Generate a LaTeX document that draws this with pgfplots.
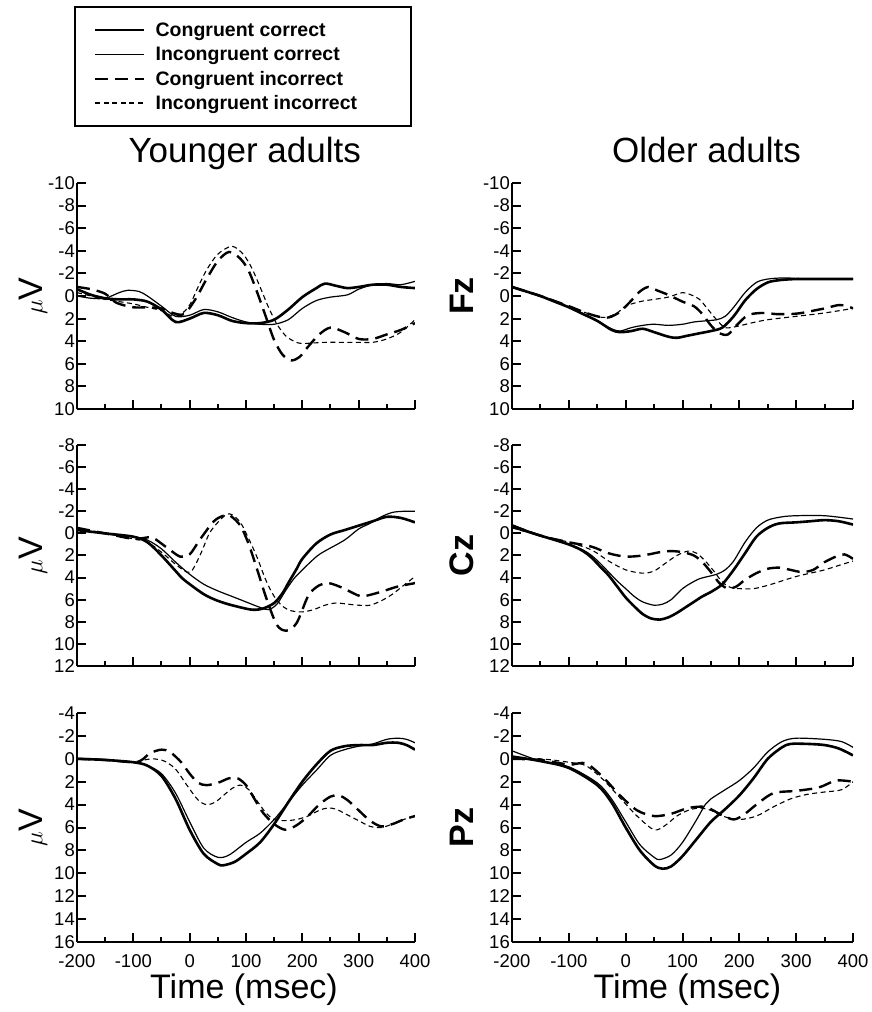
\documentclass[border=0pt]{standalone}
\usepackage{fontspec}
\setmainfont{Liberation Sans}
\usepackage{pgfplots}
\pgfplotsset{compat=1.18}

\pgfplotsset{
  erp/.style={
    scale only axis,
    xmin=-200, xmax=400,
    xtick={-200,-100,...,400},
    minor xtick={-150,-50,...,350},
    ytick distance=2,
    y dir=reverse,
    axis x line=bottom,
    axis y line=left,
    axis line style={-, line width=2.5pt},
    tick align=inside,
    major tick length=9pt,
    minor tick length=5pt,
    every tick/.style={line width=2pt, black},
    /pgf/number format/assume math mode=true,
    tick label style={font=\fontsize{18.5}{18.5}\selectfont},
    yticklabel style={anchor=east, inner xsep=2pt, font=\fontsize{18.5}{18.5}\selectfont},
    xticklabel style={anchor=base, yshift=-25pt, font=\fontsize{18.5}{18.5}\selectfont},
    every axis y label/.style={at={(axis description cs:-0.13,0.5)}, rotate=90, anchor=center, font=\fontsize{34}{34}\selectfont},
    every axis x label/.style={at={(axis description cs:0.5,0)}, anchor=base, yshift=-56pt, font=\fontsize{34}{34}\selectfont},
    title style={font=\fontsize{35}{35}\selectfont, at={(axis description cs:0.5,1)}, anchor=base, yshift=14.7pt},
    legend image code/.code={\path[draw=none, fill=none] (0pt,-12.15pt) rectangle (49pt,12.15pt); \draw[#1] (0pt,0pt) -- (49pt,0pt);},
  },
  cc/.style={black, line width=2.6pt, smooth, tension=0.5},
  ic/.style={black, line width=1.2pt, smooth, tension=0.5},
  ci/.style={black, line width=2.4pt, dash pattern=on 13pt off 7pt, smooth, tension=0.5},
  ii/.style={black, line width=1.1pt, dash pattern=on 5pt off 3.5pt, smooth, tension=0.5},
}

\begin{document}
\begin{tikzpicture}
\useasboundingbox (0,0) rectangle (871pt,1012pt);

% ---------- Younger adults, Fz ----------
\begin{axis}[erp, at={(77pt,603pt)}, anchor=south west, width=338pt, height=226pt,
  ymin=-10, ymax=10, xticklabels={},
  ylabel={$\mu$V}, title={Younger adults}, title style={xshift=-1.3pt},
  legend style={at={(-0.0089,1.7832)}, anchor=north west, draw=black, line width=2pt, fill=white,
    inner xsep=19pt, inner ysep=11pt, column sep=10pt, row sep=0pt,
    font=\fontsize{19.5}{19.5}\selectfont\bfseries,
    nodes={inner sep=0pt, text height=18.65pt, text depth=5.65pt}},
  legend cell align=left]
\addplot[cc] coordinates {(-200,-0.6)(-175,-0.1)(-150,0.2)(-125,0.3)(-100,0.3)(-75,0.5)(-50,1.2)(-25,2.3)(0,2.0)(25,1.5)(50,1.7)(75,2.2)(100,2.4)(125,2.4)(150,2.1)(175,1.2)(200,0.1)(225,-0.7)(240,-1.1)(260,-0.9)(280,-0.7)(300,-0.8)(325,-1.0)(350,-1.0)(375,-0.8)(400,-0.7)};
\addplot[ic] coordinates {(-200,0)(-175,0.2)(-150,0.2)(-125,-0.3)(-110,-0.5)(-90,-0.4)(-75,0)(-50,0.9)(-25,1.8)(0,1.7)(25,1.2)(50,1.4)(75,1.9)(100,2.3)(125,2.5)(150,2.5)(175,2.1)(200,1.1)(225,0.4)(250,0.1)(280,-0.1)(300,-0.6)(325,-1.0)(350,-1.1)(375,-1.0)(400,-1.3)};
\addplot[ci] coordinates {(-200,-0.8)(-175,-0.6)(-150,-0.2)(-130,0.6)(-100,1.0)(-75,1.0)(-50,1.1)(-30,1.5)(-10,1.6)(10,0.3)(30,-1.5)(50,-3.1)(70,-3.9)(90,-3.3)(105,-2.2)(120,-0.3)(135,1.8)(150,3.9)(165,5.2)(180,5.7)(195,5.4)(210,4.5)(230,3.4)(250,2.8)(275,3.2)(300,3.8)(325,3.8)(350,3.4)(375,3.0)(400,2.4)};
\addplot[ii] coordinates {(-200,-0.3)(-175,0)(-150,0.3)(-125,0.5)(-100,0.7)(-75,1.0)(-50,1.3)(-30,1.8)(-15,1.6)(0,0.8)(15,-0.8)(30,-2.3)(50,-3.7)(75,-4.4)(95,-3.7)(110,-2.5)(125,-0.8)(140,1.0)(155,2.5)(170,3.5)(185,4.0)(200,4.2)(240,4.1)(270,4.1)(300,4.1)(325,4.1)(350,3.8)(375,3.2)(400,2.1)};
\legend{\makebox[236pt][l]{Congruent correct},\makebox[236pt][l]{Incongruent correct},\makebox[236pt][l]{Congruent incorrect},\makebox[236pt][l]{Incongruent incorrect}}
\end{axis}

% ---------- Older adults, Fz ----------
\begin{axis}[erp, at={(512pt,603pt)}, anchor=south west, width=341pt, height=226pt,
  ymin=-10, ymax=10, xticklabels={},
  ylabel={\bfseries Fz}, every axis y label/.append style={at={(axis description cs:-0.147,0.5)}},
  title={Older adults}, title style={xshift=24pt}]
\addplot[cc] coordinates {(-200,-0.8)(-175,-0.4)(-150,0)(-125,0.5)(-100,1.0)(-75,1.6)(-50,2.2)(-25,3.0)(-10,3.2)(10,3.1)(30,2.9)(50,3.2)(75,3.6)(90,3.7)(110,3.5)(130,3.3)(150,3.1)(170,2.8)(190,1.8)(210,0.4)(230,-0.6)(250,-1.2)(270,-1.4)(300,-1.5)(350,-1.5)(400,-1.5)};
\addplot[ic] coordinates {(-200,-0.8)(-175,-0.4)(-150,0)(-125,0.5)(-100,1.0)(-75,1.6)(-50,2.2)(-25,2.9)(-10,3.1)(10,2.8)(30,2.6)(50,2.5)(75,2.6)(100,2.5)(120,2.3)(140,2.2)(160,2.1)(175,1.8)(190,1.0)(210,-0.3)(230,-1.2)(250,-1.5)(280,-1.6)(320,-1.5)(350,-1.5)(400,-1.5)};
\addplot[ci] coordinates {(-200,-0.8)(-150,0)(-100,0.9)(-75,1.4)(-50,1.8)(-30,1.9)(-10,1.4)(10,0.4)(25,-0.4)(40,-0.8)(55,-0.5)(75,-0.1)(100,0.5)(120,0.9)(135,1.6)(150,2.6)(165,3.3)(180,3.4)(195,2.6)(215,1.7)(240,1.5)(265,1.6)(290,1.6)(310,1.5)(330,1.3)(350,1.1)(375,0.8)(390,0.9)(400,1.1)};
\addplot[ii] coordinates {(-200,-0.8)(-150,0)(-100,0.9)(-75,1.4)(-50,1.8)(-35,1.9)(-15,1.5)(0,0.9)(25,0.5)(50,0.3)(75,0.1)(100,-0.3)(115,-0.1)(130,0.3)(145,1.2)(160,2.1)(175,2.8)(195,2.7)(220,2.4)(250,2.1)(300,1.8)(350,1.5)(400,1.1)};
\end{axis}

% ---------- Younger adults, Cz ----------
\begin{axis}[erp, at={(77pt,346pt)}, anchor=south west, width=338pt, height=221pt,
  ymin=-8, ymax=12, xticklabels={},
  ylabel={$\mu$V}]
\addplot[cc] coordinates {(-200,-0.3)(-150,0)(-100,0.3)(-75,0.8)(-50,2.0)(-25,3.4)(-10,4.2)(25,5.5)(50,6.1)(75,6.5)(110,6.9)(130,6.8)(150,6.3)(165,5.4)(175,4.5)(190,3.2)(200,2.3)(225,0.9)(250,0.1)(275,-0.3)(300,-0.7)(325,-1.1)(350,-1.5)(375,-1.4)(400,-1.0)};
\addplot[ic] coordinates {(-200,-0.3)(-150,0)(-100,0.3)(-75,0.6)(-50,1.4)(-25,2.6)(0,3.7)(25,4.6)(50,5.2)(75,5.7)(100,6.2)(125,6.7)(140,6.9)(155,6.4)(170,5.2)(185,4.1)(200,3.3)(225,2.1)(240,1.6)(275,0.6)(300,-0.4)(320,-0.9)(340,-1.5)(360,-1.9)(380,-2.0)(400,-2.0)};
\addplot[ci] coordinates {(-200,-0.5)(-150,0)(-100,0.5)(-80,0.4)(-65,0.4)(-40,1.3)(-17,2.1)(0,1.9)(19,0.5)(43,-1.1)(60,-1.6)(72,-1.6)(90,-0.7)(105,1.0)(120,3.3)(137,6.0)(155,8.3)(172,8.8)(190,8.1)(211,5.6)(230,4.7)(247,4.5)(270,4.9)(290,5.4)(305,5.7)(325,5.5)(345,5.2)(370,4.8)(400,4.5)};
\addplot[ii] coordinates {(-200,-0.5)(-150,0)(-100,0.5)(-75,0.8)(-50,1.7)(-25,2.8)(-5,3.5)(5,3.3)(20,1.8)(35,0)(50,-1.0)(65,-1.7)(75,-1.7)(90,-1.0)(105,0.5)(120,2.2)(135,4.2)(150,5.7)(165,6.6)(180,7.0)(200,7.1)(220,6.9)(240,6.5)(260,6.3)(280,6.4)(300,6.5)(320,6.5)(340,6.1)(360,5.5)(380,4.7)(400,3.9)};
\end{axis}

% ---------- Older adults, Cz ----------
\begin{axis}[erp, at={(512pt,346pt)}, anchor=south west, width=341pt, height=221pt,
  ymin=-8, ymax=12, xticklabels={},
  ylabel={\bfseries Cz}, every axis y label/.append style={at={(axis description cs:-0.147,0.5)}}]
\addplot[cc] coordinates {(-200,-0.6)(-150,0.2)(-100,1.0)(-75,1.6)(-60,2.2)(-45,3.0)(-30,3.8)(-15,4.8)(0,5.8)(15,6.6)(30,7.3)(45,7.7)(60,7.8)(75,7.6)(90,7.2)(105,6.7)(120,6.2)(135,5.7)(150,5.3)(170,4.6)(190,3.3)(210,1.8)(230,0.3)(250,-0.5)(270,-0.9)(300,-1.0)(325,-1.1)(350,-1.2)(375,-1.1)(400,-0.8)};
\addplot[ic] coordinates {(-200,-0.8)(-150,0.2)(-100,1.0)(-75,1.5)(-60,2.0)(-45,2.7)(-30,3.5)(-15,4.3)(0,5.0)(15,5.7)(30,6.2)(50,6.5)(65,6.4)(80,6.0)(100,5.0)(115,4.5)(130,4.1)(145,3.9)(160,3.7)(175,3.3)(190,2.5)(210,0.8)(230,-0.5)(250,-1.2)(275,-1.5)(300,-1.6)(350,-1.6)(400,-1.3)};
\addplot[ci] coordinates {(-200,-0.7)(-150,0.2)(-100,0.8)(-60,1.2)(-30,1.8)(0,2.1)(30,2.0)(60,1.7)(80,1.6)(100,1.7)(120,2.0)(135,2.6)(150,3.5)(165,4.5)(180,5.0)(195,4.8)(210,4.2)(230,3.6)(250,3.2)(270,3.1)(290,3.3)(310,3.5)(330,3.3)(350,2.6)(370,2.1)(385,1.9)(400,2.3)};
\addplot[ii] coordinates {(-200,-0.5)(-150,0.2)(-100,0.8)(-60,1.5)(-30,2.5)(0,3.3)(30,3.6)(50,3.4)(70,2.7)(90,2.0)(110,1.6)(125,1.8)(140,2.5)(155,3.4)(170,4.4)(185,4.9)(200,5.0)(225,5.0)(250,4.7)(275,4.3)(300,3.9)(325,3.6)(350,3.3)(375,2.9)(400,2.5)};
\end{axis}

% ---------- Younger adults, Pz ----------
\begin{axis}[erp, at={(77pt,70pt)}, anchor=south west, width=338pt, height=229pt,
  ymin=-4, ymax=16,
  ylabel={$\mu$V}, xlabel={Time (msec)}, xlabel style={xshift=-2pt}]
\addplot[cc] coordinates {(-200,0)(-150,0.1)(-100,0.3)(-75,0.6)(-50,1.5)(-25,3.5)(0,6.2)(25,8.3)(50,9.2)(60,9.3)(80,9.0)(100,8.3)(125,7.3)(150,5.7)(175,3.8)(200,2.0)(225,0.5)(250,-0.7)(275,-1.1)(300,-1.2)(325,-1.2)(350,-1.4)(370,-1.4)(385,-1.2)(400,-0.8)};
\addplot[ic] coordinates {(-200,0)(-150,0.1)(-100,0.3)(-75,0.6)(-50,1.3)(-25,3.0)(0,5.5)(25,7.8)(50,8.6)(70,8.4)(100,7.3)(125,6.5)(150,5.3)(175,3.8)(200,2.3)(225,1.0)(250,-0.3)(275,-0.8)(300,-1.1)(325,-1.3)(350,-1.7)(370,-1.8)(385,-1.7)(400,-1.4)};
\addplot[ci] coordinates {(-200,0)(-150,0.1)(-100,0.3)(-85,0.1)(-70,-0.5)(-50,-0.8)(-35,-0.6)(-15,0.3)(0,1.3)(15,2.1)(30,2.3)(50,2.1)(70,1.7)(85,1.7)(100,2.3)(115,3.5)(130,4.7)(150,5.7)(170,6.2)(190,5.8)(210,5.0)(230,4.0)(250,3.3)(265,3.2)(280,3.6)(300,4.5)(320,5.4)(340,5.9)(360,5.7)(380,5.3)(400,5.0)};
\addplot[ii] coordinates {(-200,0)(-150,0.1)(-100,0.3)(-80,0.1)(-65,0)(-45,0.2)(-25,0.9)(-5,2.3)(15,3.6)(30,4.0)(45,3.8)(60,3.2)(75,2.6)(90,2.3)(105,2.7)(120,3.7)(135,4.7)(150,5.3)(170,5.4)(190,5.3)(210,5.0)(230,4.5)(245,4.3)(260,4.4)(280,4.9)(300,5.4)(320,5.9)(340,6.0)(360,5.7)(380,5.3)(400,5.0)};
\end{axis}

% ---------- Older adults, Pz ----------
\begin{axis}[erp, at={(512pt,70pt)}, anchor=south west, width=341pt, height=229pt,
  ymin=-4, ymax=16,
  ylabel={\bfseries Pz}, every axis y label/.append style={at={(axis description cs:-0.147,0.5)}},
  xlabel={Time (msec)}, xlabel style={xshift=5pt}]
\addplot[cc] coordinates {(-200,-0.2)(-150,0.2)(-100,0.8)(-50,2.3)(-25,3.8)(0,6.0)(25,8.0)(50,9.3)(65,9.6)(80,9.4)(100,8.5)(125,7.0)(150,5.5)(175,4.4)(200,3.2)(225,1.7)(250,0)(275,-1.0)(290,-1.3)(320,-1.3)(350,-1.2)(375,-0.9)(400,-0.3)};
\addplot[ic] coordinates {(-200,-0.7)(-150,0.2)(-100,0.7)(-50,2.1)(-25,3.5)(0,5.5)(25,7.5)(50,8.6)(60,8.8)(80,8.4)(100,7.3)(125,5.3)(140,4.0)(150,3.5)(175,2.7)(200,1.9)(225,0.8)(250,-0.6)(275,-1.5)(300,-1.8)(350,-1.7)(380,-1.5)(400,-1.0)};
\addplot[ci] coordinates {(-200,0)(-150,0.1)(-100,0.5)(-70,0.4)(-40,1.6)(-10,3.2)(20,4.5)(50,5.0)(80,4.8)(110,4.3)(140,4.2)(165,4.8)(190,5.3)(210,4.8)(230,4.0)(260,3.0)(300,2.8)(340,2.5)(370,1.9)(400,2.0)};
\addplot[ii] coordinates {(-200,0)(-150,0)(-100,0.3)(-70,0.6)(-40,1.8)(-10,3.4)(20,5.0)(50,6.2)(70,5.8)(90,5.0)(110,4.5)(130,4.3)(150,4.5)(170,5.0)(200,5.3)(230,5.0)(260,4.2)(290,3.5)(320,3.1)(350,2.9)(380,2.7)(400,2.0)};
\end{axis}
\end{tikzpicture}
\end{document}
